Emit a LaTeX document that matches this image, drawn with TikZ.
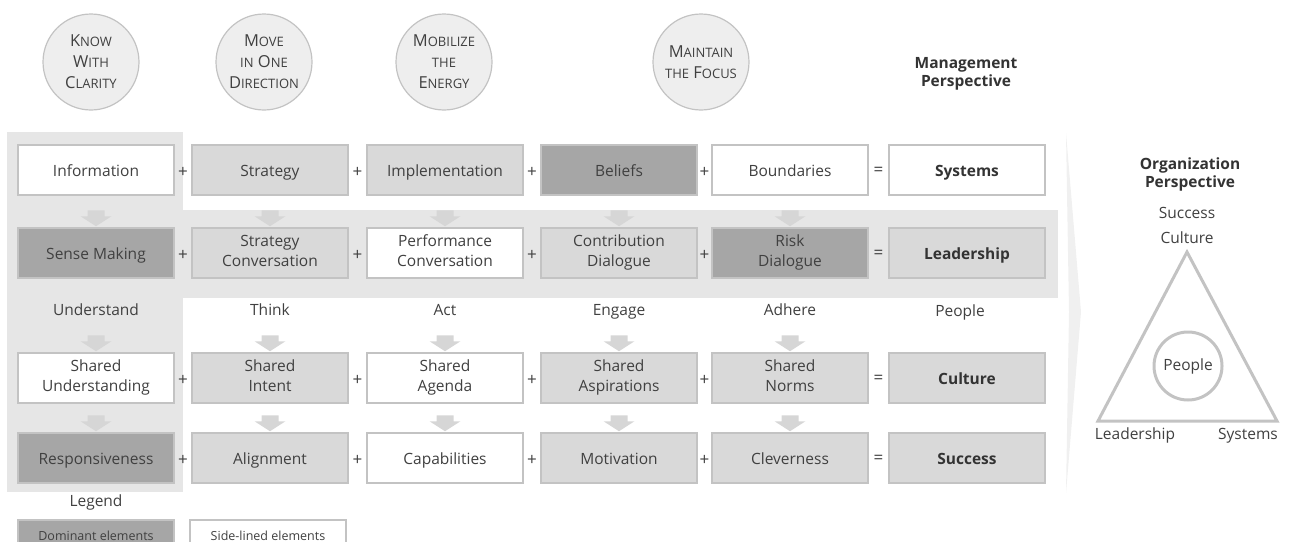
\documentclass[tikz,border=0pt]{standalone}
\usepackage{fontspec}
\setmainfont{Open Sans}
\usetikzlibrary{positioning}
\usetikzlibrary{calc}
\usetikzlibrary{backgrounds}

\definecolor{textgray}{HTML}{404040}
\definecolor{boldgray}{HTML}{333333}
\definecolor{bandgray}{HTML}{E6E6E6}
\definecolor{lightfill}{HTML}{D9D9D9}
\definecolor{darkfill}{HTML}{A6A6A6}
\definecolor{boxline}{HTML}{C3C3C3}
\definecolor{arrowgray}{HTML}{D6D6D6}
\definecolor{circfill}{HTML}{EEEEEE}
\definecolor{chevgray}{HTML}{F0F0F0}

\newcommand{\boxfont}{\fontsize{15.5}{20}\selectfont}
\newcommand{\fsc}[2]{#1{\fontsize{13}{21}\selectfont #2}}

\tikzset{
    box/.style={draw=boxline, line width=1.5pt, minimum width=156pt, minimum height=50pt,
                inner sep=2pt, align=center, text=textgray, font=\boxfont,
                execute at begin node={\rule{0pt}{16pt}}, execute at end node={\rule[-4pt]{0pt}{4pt}}},
    wbox/.style={box, fill=white},
    lbox/.style={box, fill=lightfill},
    dbox/.style={box, fill=darkfill},
    op/.style={text=textgray, font=\fontsize{17}{20}\selectfont, inner sep=0pt},
    lbl/.style={text=textgray, font=\boxfont, inner sep=0pt, text height=11pt, text depth=4pt},
    head/.style={text=boldgray, font=\fontsize{15.5}{18}\selectfont\bfseries, align=center, inner sep=0pt},
    aim/.style={circle, draw=boxline, line width=1.2pt, fill=circfill, minimum size=96pt,
                inner sep=0pt, align=center, text=textgray, font=\fontsize{16.5}{21}\selectfont},
    tri/.style={draw=boxline, line width=3pt},
    legendbox/.style={box, minimum height=28pt, font=\fontsize{12.5}{14}\selectfont,
                execute at begin node={\rule{0pt}{11pt}}, execute at end node={\rule[-3pt]{0pt}{3pt}}}
}

\begin{document}
\begin{tikzpicture}[x=1pt, y=-1pt]
    \useasboundingbox (0,0) rectangle (1290,541);

    \node [aim] (know) at (91,62) {\fsc{K}{NOW}\\\fsc{W}{ITH}\\\fsc{C}{LARITY}};
    \node [aim] (move) at (264,62) {\fsc{M}{OVE}\\\fsc{}{IN} \fsc{O}{NE}\\\fsc{D}{IRECTION}};
    \node [aim] (mobil) at (444,62) {\fsc{M}{OBILIZE}\\\fsc{}{THE}\\\fsc{E}{NERGY}};
    \node [aim] (maint) at (701,62) {\fsc{M}{AINTAIN}\\\fsc{}{THE} \fsc{F}{OCUS}};
    \node [head] (mgmt) at (966,74) {Management\\Perspective};

    \node [wbox] (info) at (96,170) {Information};
    \node [lbox, right=16.5pt of info] (strat) {Strategy};
    \node [lbox, right=17.5pt of strat] (impl) {Implementation};
    \node [dbox, right=16.5pt of impl] (bel) {Beliefs};
    \node [wbox, right=13.5pt of bel] (bound) {Boundaries};
    \node [wbox, right=19.5pt of bound] (sys) {\textbf{\color{boldgray}Systems}};

    \node [dbox, below=31.5pt of info] (sense) {Sense Making};
    \node [lbox, right=16.5pt of sense] (stratc) {Strategy\\Conversation};
    \node [wbox, right=17.5pt of stratc] (perf) {Performance\\Conversation};
    \node [lbox, right=16.5pt of perf] (contr) {Contribution\\Dialogue};
    \node [dbox, right=13.5pt of contr] (risk) {Risk\\Dialogue};
    \node [lbox, right=19.5pt of risk] (lead) {\textbf{\color{boldgray}Leadership}};

    \node [lbl] (und) at ($(sense.south)+(0,33)$) {Understand};
    \node [lbl] (think) at ($(stratc.south)+(0,33)$) {Think};
    \node [lbl] (act) at ($(perf.south)+(0,33)$) {Act};
    \node [lbl] (eng) at ($(contr.south)+(0,33)$) {Engage};
    \node [lbl] (adh) at ($(risk.south)+(0,33)$) {Adhere};
    \node [lbl] (peop) at ($(lead.south)+(-7,34)$) {People};

    \node [wbox, below=73.5pt of sense] (shund) {Shared\\Understanding};
    \node [lbox, right=16.5pt of shund] (shint) {Shared\\Intent};
    \node [wbox, right=17.5pt of shint] (shag) {Shared\\Agenda};
    \node [lbox, right=16.5pt of shag] (shasp) {Shared\\Aspirations};
    \node [lbox, right=13.5pt of shasp] (shnorm) {Shared\\Norms};
    \node [lbox, right=19.5pt of shnorm] (cult) {\textbf{\color{boldgray}Culture}};

    \node [dbox, below=28.5pt of shund] (resp) {Responsiveness};
    \node [lbox, right=16.5pt of resp] (align) {Alignment};
    \node [wbox, right=17.5pt of align] (capa) {Capabilities};
    \node [lbox, right=16.5pt of capa] (motiv) {Motivation};
    \node [lbox, right=13.5pt of motiv] (clev) {Cleverness};
    \node [lbox, right=19.5pt of clev] (succ) {\textbf{\color{boldgray}Success}};

    \begin{scope}[on background layer]
        \fill [bandgray] ($(info.north west)+(-10,-12)$) rectangle ($(resp.south east)+(8,8)$);
        \fill [bandgray] ($(sense.north west)+(-10,-17)$) rectangle ($(lead.south east)+(12,19)$);
    \end{scope}

    \foreach \a/\b in {info/sense, strat/stratc, impl/perf, bel/contr, bound/risk,
                       sense/shund, stratc/shint, perf/shag, contr/shasp, risk/shnorm,
                       shund/resp, shint/align, shag/capa, shasp/motiv, shnorm/clev}
        \fill [arrowgray] ($(\b.north)+(-8.5,-17)$) -- ($(\b.north)+(8.5,-17)$) --
              ($(\b.north)+(8.5,-11)$) -- ($(\b.north)+(15.5,-11)$) -- ($(\b.north)+(0,-1)$) --
              ($(\b.north)+(-15.5,-11)$) -- ($(\b.north)+(-8.5,-11)$) -- cycle;

    \foreach \a/\b in {info/strat, strat/impl, impl/bel, bel/bound,
                       sense/stratc, stratc/perf, perf/contr, contr/risk,
                       shund/shint, shint/shag, shag/shasp, shasp/shnorm,
                       resp/align, align/capa, capa/motiv, motiv/clev}
        \node [op] (plus-\a) at ($(\a.east)!0.5!(\b.west)+(0,2)$) {+};
    \foreach \a/\b in {bound/sys, risk/lead, shnorm/cult, clev/succ}
        \node [op] (eq-\a) at ($(\a.east)!0.5!(\b.west)+(0,1)$) {=};

    \node [lbl] (leg) at (96,503) {Legend};
    \node [legendbox, fill=darkfill] (dom) at (96,534) {Dominant elements};
    \node [legendbox, fill=white, right=14.5pt of dom] (side) {Side-lined elements};

    \fill [chevgray] (1066,133) -- (1081,312) -- (1066,493) -- (1069,312) -- cycle;

    \node [head] (orgp) at (1190,174) {Organization\\Perspective};
    \node [lbl] (tsucc) at (1187,215) {Success};
    \node [lbl] (tcult) at (1187,240) {Culture};
    \coordinate (apex) at (1187,252);
    \coordinate (bl) at (1098,421);
    \coordinate (br) at (1277,421);
    \draw [tri] (apex) -- (bl) -- (br) -- cycle;
    \node [circle, draw=boxline, line width=3pt, minimum size=68pt, inner sep=0pt,
           text=textgray, font=\boxfont] (core) at (1188,366) {People};
    \node [lbl] (tlead) at (1135,436) {Leadership};
    \node [lbl] (tsys) at (1248,436) {Systems};
\end{tikzpicture}
\end{document}
